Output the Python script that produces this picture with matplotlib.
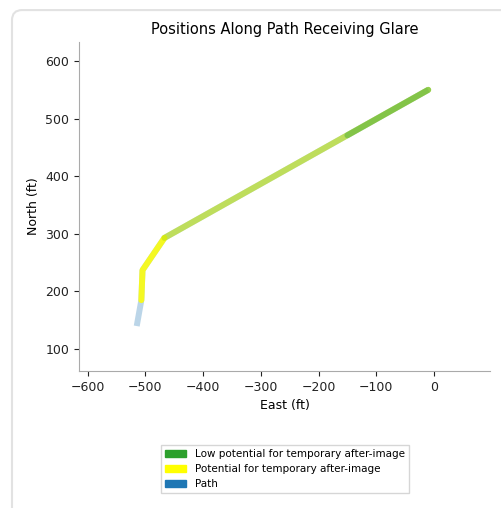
import matplotlib.pyplot as plt
from matplotlib.patches import Patch, FancyBboxPatch

# path vertices (ft)
path_east = [-515, -507, -505, -467, -10]
path_north = [140, 185, 237, 293, 550]

# glare portions along the path
yellow_east = [-507, -505, -467]
yellow_north = [185, 237, 293]
yellow_light_east = [-467, -10]
yellow_light_north = [293, 550]
green_east = [-467, -10]
green_north = [293, 550]
green_strong_east = [-150, -10]
green_strong_north = [471, 550]

legend_labels = ['Low potential for temporary after-image',
                 'Potential for temporary after-image',
                 'Path']

fig = plt.figure(figsize=(5.01, 5.08), dpi=100)

# card frame around the figure
card = FancyBboxPatch((12 / 501, -0.05), 1.1, 1.04 - 5 / 508,
                      boxstyle='round,pad=0,rounding_size=0.02',
                      transform=fig.transFigure, facecolor='white',
                      edgecolor='#e2e2e2', linewidth=1.5, zorder=-10)
fig.patches.append(card)

ax = fig.add_axes([79 / 501, 1 - 371 / 508, 411 / 501, 329 / 508])
ax.set_facecolor('none')

lw = 4.3
ax.plot(path_east, path_north, color='#1f77b4', alpha=0.3, linewidth=lw,
        solid_capstyle='butt')
ax.plot(yellow_east, yellow_north, color='yellow', alpha=0.85, linewidth=lw,
        solid_capstyle='round')
ax.plot(yellow_light_east, yellow_light_north, color='yellow', alpha=0.55,
        linewidth=lw, solid_capstyle='round')
ax.plot(green_east, green_north, color='#2ca02c', alpha=0.19, linewidth=lw,
        solid_capstyle='round')
ax.plot(green_strong_east, green_strong_north, color='#2ca02c', alpha=0.4,
        linewidth=lw, solid_capstyle='round')

ax.set_xlim(-615, 97)
ax.set_ylim(62, 633)
ax.set_xticks([-600, -500, -400, -300, -200, -100, 0])
ax.set_yticks([100, 200, 300, 400, 500, 600])
ax.tick_params(labelsize=9, colors='#222222')
for s in ['top', 'right']:
    ax.spines[s].set_visible(False)
for s in ['left', 'bottom']:
    ax.spines[s].set_color('#aaaaaa')
ax.set_xlabel('East (ft)', fontsize=9)
ax.set_ylabel('North (ft)', fontsize=9)
ax.set_title('Positions Along Path Receiving Glare', fontsize=10.5)

handles = [Patch(color='#2ca02c'), Patch(color='yellow'), Patch(color='#1f77b4')]
fig.legend(handles, legend_labels, loc='center',
           bbox_to_anchor=(285 / 501, 1 - 469 / 508), fontsize=7.5,
           handlelength=2, frameon=True, fancybox=False, edgecolor='#cccccc')

fig.savefig('out.png', dpi=100)
